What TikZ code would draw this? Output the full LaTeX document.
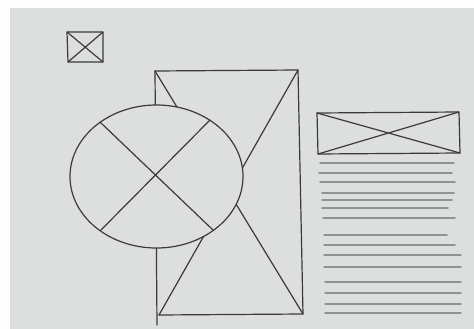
\documentclass[tikz,border=0pt]{standalone}
\definecolor{paper}{HTML}{DDDFDE}
\definecolor{pencil}{HTML}{3A3A3A}
\definecolor{faint}{HTML}{919392}
\begin{document}
\begin{tikzpicture}[x=1pt,y=-1pt,
  sketch/.style={draw=pencil,line width=1.2pt,line join=round,line cap=round},
  textline/.style={draw=faint,line width=1.5pt,line cap=round}]
\useasboundingbox (0,0) rectangle (474,329);
\fill[white!96!paper] (0,0) rectangle (474,329);
\fill[paper] (10,8) rectangle (474,329);
% small image placeholder
\coordinate (s1) at (67,32); \coordinate (s2) at (103,32);
\coordinate (s3) at (103,62); \coordinate (s4) at (68,62);
\draw[sketch] (s1) -- (s2) -- (s3) -- (s4) -- cycle;
\draw[sketch] (s1) -- (s3) (s2) -- (s4);
% big rectangle placeholder
\coordinate (b1) at (155,71); \coordinate (b2) at (298,70);
\coordinate (b3) at (303,314); \coordinate (b4) at (159,315);
\coordinate (b5) at (157,325);
\draw[sketch] (b1) -- (b2) -- (b3) -- (b4);
\draw[sketch] (b1) -- (b5);
\draw[sketch] (b1) -- (b3) (b2) -- (b4);
% ellipse placeholder
\coordinate (ec) at (156.5,176.5);
\draw[sketch,fill=paper] (ec) ellipse [x radius=86.5, y radius=71.5];
\coordinate (e1) at (100,122); \coordinate (e2) at (213,230);
\coordinate (e3) at (210,120); \coordinate (e4) at (101,230);
\draw[sketch] (e1) -- (e2) (e3) -- (e4);
% right image placeholder
\coordinate (r1) at (317,113); \coordinate (r2) at (459,112);
\coordinate (r3) at (460,153); \coordinate (r4) at (318,154);
\draw[sketch] (r1) -- (r2) -- (r3) -- (r4) -- cycle;
\draw[sketch] (r1) -- (r3) (r2) -- (r4);
% text lines
\foreach \y/\a/\b in {163/320/454, 173/319/452, 182/320/455, 193/322/454, 200/322/452,
  208/322/448, 218/323/455, 235/324/447, 245/324/455, 255/324/461, 267/324/461,
  282/325/461, 293/325/461, 304/325/461, 313/325/461}
  \draw[textline] (\a,\y) -- (\b,\y);
\end{tikzpicture}
\end{document}
